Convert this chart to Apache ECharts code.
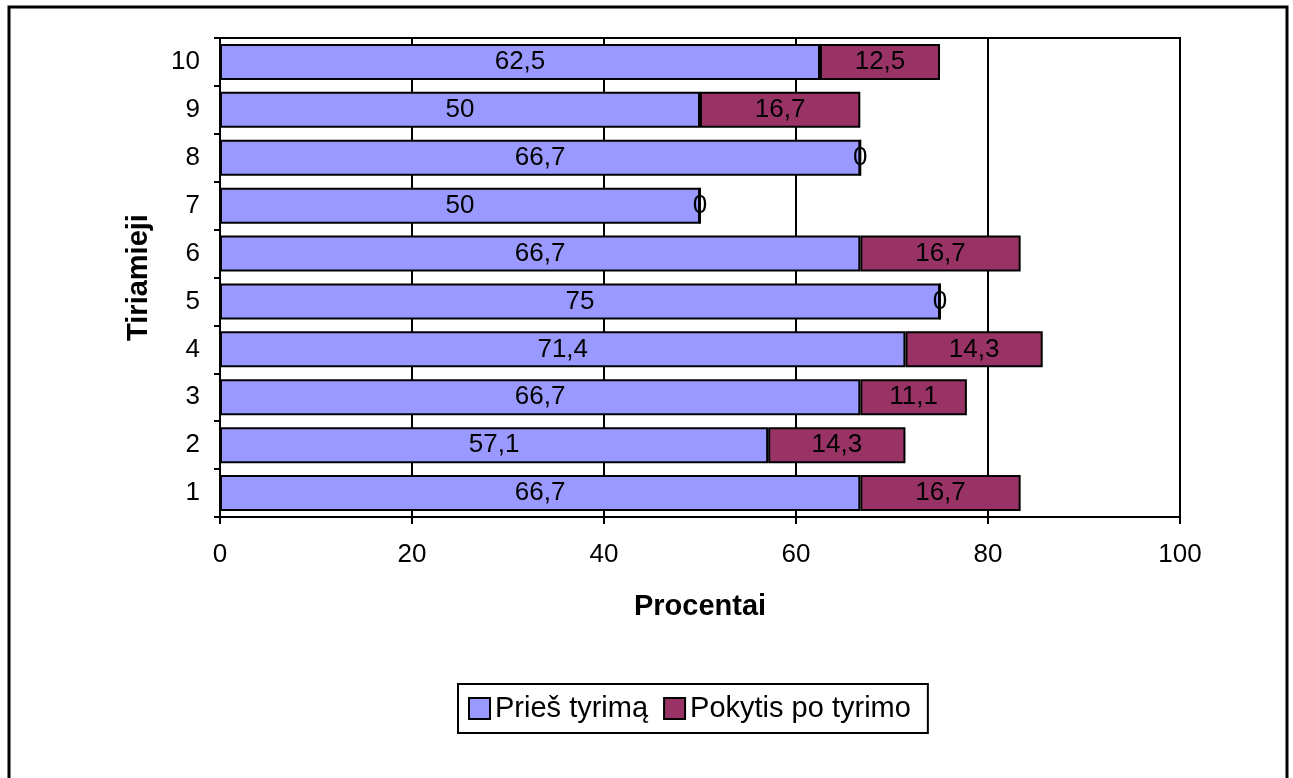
<!DOCTYPE html>
<html>
<head>
<meta charset="utf-8">
<script src="https://cdn.jsdelivr.net/npm/echarts@6/dist/echarts.min.js"></script>
<style>
  html, body { margin: 0; padding: 0; background: #fff; }
  #chart { width: 1293px; height: 778px; }
</style>
</head>
<body>
<div id="chart"></div>
<script>
// Subjects (bottom to top) and their scores
const categories = ['1', '2', '3', '4', '5', '6', '7', '8', '9', '10'];
const beforeValues = [66.7, 57.1, 66.7, 71.4, 75, 66.7, 50, 66.7, 50, 62.5];
const changeValues = [16.7, 14.3, 11.1, 14.3, 0, 16.7, 0, 0, 16.7, 12.5];
const seriesNames = ['Prieš tyrimą', 'Pokytis po tyrimo'];
const xTicks = { min: 0, max: 100, interval: 20 };

const FONT = '"Liberation Sans", Arial, sans-serif';
const fmt = p => String(p.value).replace('.', ',');

const chart = echarts.init(document.getElementById('chart'), null, { renderer: 'canvas' });

const labelStyle = {
  show: true,
  position: 'inside',
  color: '#000',
  fontFamily: FONT,
  fontSize: 26,
  formatter: fmt
};

chart.setOption({
  animation: false,
  backgroundColor: '#fff',
  graphic: [{
    type: 'rect',
    shape: { x: 9, y: 7, width: 1278, height: 790 },
    style: { fill: 'none', stroke: '#000', lineWidth: 3 },
    silent: true
  }],
  grid: {
    left: 220, right: 113, top: 38, height: 479,
    show: true, borderColor: '#000', borderWidth: 2, backgroundColor: 'transparent'
  },
  legend: {
    data: seriesNames,
    left: 458, top: 684,
    padding: [10, 17, 10, 10],
    borderColor: '#000', borderWidth: 2,
    itemWidth: 21, itemHeight: 21, itemGap: 15,
    icon: 'rect',
    itemStyle: { borderColor: '#000', borderWidth: 2 },
    textStyle: { color: '#000', fontFamily: FONT, fontSize: 29 }
  },
  xAxis: {
    type: 'value',
    min: xTicks.min, max: xTicks.max, interval: xTicks.interval,
    name: 'Procentai',
    nameLocation: 'middle',
    nameGap: 75,
    nameTextStyle: { color: '#000', fontFamily: FONT, fontSize: 29, fontWeight: 'bold' },
    axisLine: { show: true, lineStyle: { color: '#000', width: 2 } },
    axisTick: { show: true, length: 7, lineStyle: { color: '#000', width: 2 } },
    axisLabel: { color: '#000', fontFamily: FONT, fontSize: 26, margin: 25 },
    splitLine: { show: true, lineStyle: { color: '#000', width: 2 } }
  },
  yAxis: {
    type: 'category',
    data: categories,
    name: 'Tiriamieji',
    nameLocation: 'middle',
    nameRotate: 90,
    nameGap: 67,
    nameTextStyle: { color: '#000', fontFamily: FONT, fontSize: 29, fontWeight: 'bold' },
    axisLine: { show: true, lineStyle: { color: '#000', width: 2 } },
    axisTick: { show: true, length: 6, alignWithLabel: false, lineStyle: { color: '#000', width: 2 } },
    axisLabel: { color: '#000', fontFamily: FONT, fontSize: 26, margin: 20 },
    splitLine: { show: false }
  },
  series: [
    {
      name: seriesNames[0],
      type: 'bar',
      stack: 'total',
      barWidth: 36,
      data: beforeValues,
      itemStyle: { color: '#9999FF', borderColor: '#000', borderWidth: 2 },
      label: labelStyle
    },
    {
      name: seriesNames[1],
      type: 'bar',
      stack: 'total',
      barWidth: 36,
      data: changeValues,
      itemStyle: { color: '#993366', borderColor: '#000', borderWidth: 2 },
      label: labelStyle
    }
  ]
});
</script>
</body>
</html>
